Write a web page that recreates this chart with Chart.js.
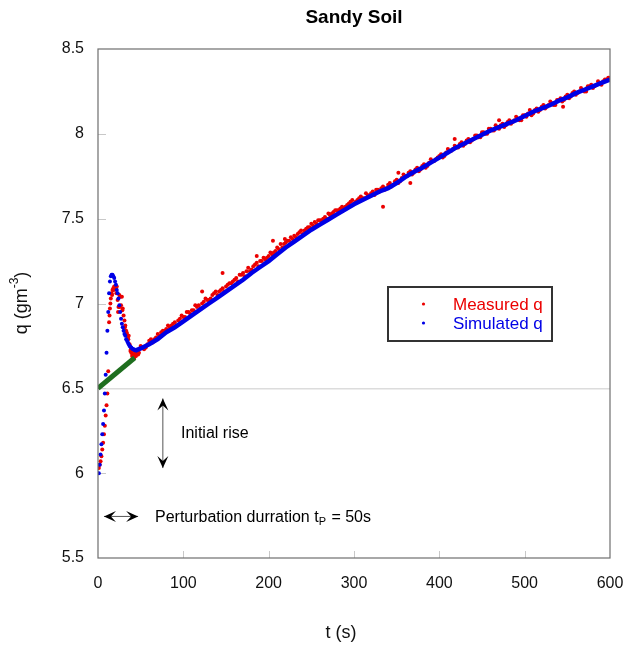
<!DOCTYPE html>
<html>
<head>
<meta charset="utf-8">
<title>Sandy Soil</title>
<script src="https://cdn.jsdelivr.net/npm/chart.js@4.4.1/dist/chart.umd.min.js"></script>
<style>
  html, body { margin: 0; padding: 0; background: #fff; }
  #wrap { width: 624px; height: 650px; position: relative; }
</style>
</head>
<body>
<div id="wrap"><canvas id="soil-chart" width="624" height="650"></canvas></div>
<script>
// Simulated q: 1 s steps through the peak, then every 10 s
const simTime = [1, 2, 3, 4, 5, 6, 7, 8, 9, 10, 11, 12, 13, 14, 15, 16, 17, 18, 19, 20,
    21, 22, 23, 24, 25, 26, 27, 28, 29, 30, 31, 32, 33, 34, 35, 36, 37, 38, 39, 40,
    41, 42, 43, 44, 45, 50, 60, 70, 80, 90, 100, 110, 120, 130, 140, 150, 160, 170, 180, 190,
    200, 210, 220, 230, 240, 250, 260, 270, 280, 290, 300, 310, 320, 330, 340, 350, 360, 370, 380, 390,
    400, 410, 420, 430, 440, 450, 460, 470, 480, 490, 500, 510, 520, 530, 540, 550, 560, 570, 580, 590, 600];
const simQ = [6.00, 6.05, 6.11, 6.17, 6.23, 6.29, 6.37, 6.47, 6.58, 6.71, 6.84, 6.95, 7.06, 7.13, 7.16, 7.17, 7.17, 7.16, 7.15, 7.13,
    7.11, 7.08, 7.06, 7.03, 6.99, 6.95, 6.91, 6.88, 6.86, 6.84, 6.82, 6.81, 6.79, 6.78, 6.77, 6.76, 6.75, 6.745, 6.74, 6.735,
    6.73, 6.73, 6.725, 6.725, 6.725, 6.735, 6.76, 6.79, 6.83, 6.86, 6.895, 6.93, 6.965, 7.00, 7.035, 7.07, 7.105, 7.14, 7.18, 7.215,
    7.25, 7.29, 7.33, 7.365, 7.40, 7.435, 7.465, 7.495, 7.525, 7.555, 7.585, 7.61, 7.635, 7.66, 7.68, 7.71, 7.745, 7.775, 7.80, 7.83,
    7.86, 7.89, 7.92, 7.945, 7.97, 7.995, 8.02, 8.04, 8.06, 8.08, 8.105, 8.13, 8.15, 8.17, 8.195, 8.215, 8.24, 8.26, 8.28, 8.30, 8.32];

// Measured q
const measTime = [1, 2, 3, 4, 5, 6, 7, 8, 9, 10, 11, 12, 13, 14, 15, 16, 17, 18, 19, 20,
    21, 22, 23, 24, 25, 26, 27, 28, 29, 30, 31, 32, 33, 34, 35, 36, 37, 38, 39, 40,
    41, 42, 43, 44, 45, 46, 47, 48,
    13.5, 14.5, 16.5, 18.5, 21.5, 23.5, 25.5, 28.5, 31.5, 33.5, 35.5, 38.5, 40.5, 42.5, 44.5, 46.5,
    52, 56, 60, 64, 68, 72, 76, 80, 84, 88, 92, 96, 100, 104, 108, 112, 116, 120, 124, 128,
    132, 136, 140, 144, 148, 152, 156, 160, 164, 168, 172, 176, 180, 184, 188, 192, 196, 200, 204, 208,
    212, 216, 220, 224, 228, 232, 236, 240, 244, 248, 252, 256, 260, 264, 268, 272, 276, 280, 284, 288,
    292, 296, 300, 304, 308, 312, 316, 320, 324, 328, 332, 336, 340, 344, 348, 352, 356, 360, 364, 368,
    372, 376, 380, 384, 388, 392, 396, 400, 404, 408, 412, 416, 420, 424, 428, 432, 436, 440, 444, 448,
    452, 456, 460, 464, 468, 472, 476, 480, 484, 488, 492, 496, 500, 504, 508, 512, 516, 520, 524, 528,
    532, 536, 540, 544, 548, 552, 556, 560, 564, 568, 572, 576, 580, 584, 588, 592, 596, 600,
    50, 54, 58, 62, 66, 70, 74, 78, 82, 86, 90, 94, 98, 102, 106, 110, 114, 118, 122, 126,
    130, 134, 138, 142, 146, 150, 154, 158, 162, 166, 170, 174, 178, 182, 186, 190, 194, 198, 202, 206,
    210, 214, 218, 222, 226, 230, 234, 238, 242, 246, 250, 254, 258, 262, 266, 270, 274, 278, 282, 286,
    290, 294, 298, 302, 306, 310, 314, 318, 322, 326, 330, 334, 338, 342, 346, 350, 354, 358, 362, 366,
    370, 374, 378, 382, 386, 390, 394, 398, 402, 406, 410, 414, 418, 422, 426, 430, 434, 438, 442, 446,
    450, 454, 458, 462, 466, 470, 474, 478, 482, 486, 490, 494, 498, 502, 506, 510, 514, 518, 522, 526,
    530, 534, 538, 542, 546, 550, 554, 558, 562, 566, 570, 574, 578, 582, 586, 590, 594, 598,
    122, 146, 186, 205, 219, 334, 352, 366, 418, 470, 545];
const measQ = [6.03, 6.05, 6.07, 6.10, 6.14, 6.18, 6.23, 6.28, 6.34, 6.40, 6.47, 6.60, 6.89, 6.97, 7.03, 7.06, 7.08, 7.09, 7.10, 7.10,
    7.09, 7.10, 7.02, 6.98, 7.05, 7.04, 6.99, 7.04, 6.97, 6.93, 6.90, 6.87, 6.84, 6.82, 6.80, 6.81, 6.76, 6.72, 6.71, 6.69,
    6.72, 6.70, 6.69, 6.71, 6.70, 6.72, 6.70, 6.71,
    6.93, 7.00, 7.05, 7.08, 7.06, 6.95, 6.98, 6.96, 6.86, 6.83, 6.79, 6.73, 6.70, 6.68, 6.69, 6.71,
    6.74, 6.74, 6.78, 6.77, 6.80, 6.81, 6.84, 6.85, 6.86, 6.88, 6.87, 6.91, 6.92, 6.95, 6.94, 6.96, 6.98, 6.97, 7.01, 7.02,
    7.03, 7.06, 7.05, 7.08, 7.07, 7.11, 7.12, 7.14, 7.13, 7.17, 7.16, 7.21, 7.20, 7.23, 7.22, 7.25, 7.26, 7.28, 7.29, 7.31,
    7.32, 7.33, 7.36, 7.37, 7.38, 7.39, 7.42, 7.41, 7.44, 7.45, 7.46, 7.47, 7.49, 7.50, 7.50, 7.52, 7.54, 7.55, 7.56, 7.56,
    7.58, 7.60, 7.59, 7.61, 7.63, 7.62, 7.64, 7.65, 7.64, 7.67, 7.68, 7.67, 7.70, 7.69, 7.72, 7.71, 7.74, 7.75, 7.77, 7.76,
    7.79, 7.78, 7.81, 7.80, 7.83, 7.84, 7.85, 7.87, 7.86, 7.89, 7.90, 7.91, 7.92, 7.94, 7.93, 7.96, 7.95, 7.97, 7.99, 7.98,
    8.01, 8.00, 8.03, 8.02, 8.04, 8.05, 8.04, 8.07, 8.06, 8.08, 8.09, 8.08, 8.11, 8.12, 8.11, 8.14, 8.13, 8.16, 8.15, 8.17,
    8.18, 8.17, 8.20, 8.19, 8.22, 8.21, 8.24, 8.23, 8.25, 8.26, 8.25, 8.28, 8.27, 8.29, 8.30, 8.31, 8.32, 8.33,
    6.75, 6.73, 6.76, 6.79, 6.79, 6.82, 6.83, 6.84, 6.87, 6.87, 6.89, 6.90, 6.93, 6.92, 6.95, 6.96, 6.99, 6.99, 7.00, 7.03,
    7.02, 7.05, 7.07, 7.07, 7.09, 7.10, 7.12, 7.13, 7.15, 7.17, 7.18, 7.19, 7.19, 7.22, 7.24, 7.25, 7.27, 7.27, 7.30, 7.30,
    7.33, 7.35, 7.35, 7.37, 7.39, 7.40, 7.41, 7.43, 7.43, 7.45, 7.47, 7.48, 7.49, 7.49, 7.51, 7.53, 7.53, 7.55, 7.55, 7.57,
    7.57, 7.59, 7.61, 7.60, 7.62, 7.62, 7.65, 7.63, 7.66, 7.67, 7.66, 7.69, 7.68, 7.71, 7.70, 7.73, 7.72, 7.76, 7.75, 7.78,
    7.77, 7.80, 7.79, 7.82, 7.81, 7.85, 7.84, 7.86, 7.88, 7.87, 7.91, 7.90, 7.93, 7.92, 7.95, 7.94, 7.97, 7.96, 7.99, 7.98,
    8.01, 8.00, 8.03, 8.02, 8.05, 8.03, 8.06, 8.05, 8.08, 8.07, 8.10, 8.08, 8.11, 8.10, 8.14, 8.12, 8.15, 8.14, 8.17, 8.16,
    8.19, 8.17, 8.20, 8.21, 8.20, 8.23, 8.22, 8.25, 8.24, 8.27, 8.25, 8.28, 8.29, 8.28, 8.31, 8.29, 8.32, 8.33,
    7.07, 7.18, 7.28, 7.37, 7.38, 7.57, 7.77, 7.71, 7.97, 8.08, 8.16];

// Initial rise line
const riseTime = [0, 43];
const riseQ = [6.5, 6.68];

const chartTitle = "Sandy Soil";
const xTitle = "t (s)";
const seriesNames = ["Measured q", "Simulated q"];

const RED = "rgb(235, 0, 0)";
const BLUE = "rgb(0, 0, 230)";
const GREEN = "rgb(30, 110, 30)";
const FONT = "'Liberation Sans', Arial, sans-serif";

const toPoints = (xs, ys) => xs.map((x, i) => ({ x: x, y: ys[i] }));

// Filled chevron arrowhead with its tip at (x, y), pointing along angle a
function arrowHead(ctx, x, y, a) {
    const len = 12, half = 5.5, notch = 5;
    ctx.save();
    ctx.translate(x, y);
    ctx.rotate(a);
    ctx.beginPath();
    ctx.moveTo(0, 0);
    ctx.lineTo(-len, -half);
    ctx.lineTo(-len + notch, 0);
    ctx.lineTo(-len, half);
    ctx.closePath();
    ctx.fill();
    ctx.restore();
}

function doubleArrow(ctx, x1, y1, x2, y2) {
    ctx.save();
    ctx.strokeStyle = "#555";
    ctx.fillStyle = "#000";
    ctx.lineWidth = 1;
    ctx.beginPath();
    ctx.moveTo(x1, y1);
    ctx.lineTo(x2, y2);
    ctx.stroke();
    const a = Math.atan2(y2 - y1, x2 - x1);
    arrowHead(ctx, x2, y2, a);
    arrowHead(ctx, x1, y1, a + Math.PI);
    ctx.restore();
}

// Frame, inward ticks, titles, legend and annotations
const decorations = {
    id: "decorations",
    beforeDatasetsDraw(chart) {
        const { ctx, chartArea: area, scales: { x, y } } = chart;
        ctx.save();
        ctx.strokeStyle = "#c8c8c8";
        ctx.lineWidth = 1;
        x.ticks.forEach(t => {
            if (t.value <= 0 || t.value >= 600) return;
            const px = Math.round(x.getPixelForValue(t.value)) + 0.5;
            ctx.beginPath();
            ctx.moveTo(px, area.bottom);
            ctx.lineTo(px, area.bottom - 7);
            ctx.stroke();
        });
        y.ticks.forEach(t => {
            if (t.value <= 5.5 || t.value >= 8.5) return;
            const py = Math.round(y.getPixelForValue(t.value)) + 0.5;
            ctx.beginPath();
            ctx.moveTo(area.left, py);
            ctx.lineTo(area.left + 8, py);
            ctx.stroke();
        });
        ctx.restore();
    },
    afterDraw(chart) {
        const { ctx, chartArea: area, scales: { x, y } } = chart;
        ctx.save();

        // plot frame
        ctx.strokeStyle = "#6e6e6e";
        ctx.lineWidth = 1.2;
        ctx.strokeRect(area.left, area.top, area.right - area.left, area.bottom - area.top);

        // chart title
        ctx.fillStyle = "#000";
        ctx.textAlign = "center";
        ctx.textBaseline = "middle";
        ctx.font = "bold 19px " + FONT;
        ctx.fillText(chartTitle, 354, 18);

        // x axis title
        ctx.font = "18px " + FONT;
        ctx.fillStyle = "#111";
        ctx.fillText(xTitle, 341, 633);

        // y axis title with superscript
        ctx.save();
        ctx.translate(22, 303);
        ctx.rotate(-Math.PI / 2);
        ctx.textAlign = "left";
        ctx.textBaseline = "middle";
        const base = "q (gm";
        ctx.font = "18px " + FONT;
        const wBase = ctx.measureText(base).width;
        ctx.font = "12px " + FONT;
        const wSup = ctx.measureText("-3").width;
        ctx.font = "18px " + FONT;
        const wEnd = ctx.measureText(")").width;
        let start = -(wBase + wSup + wEnd) / 2;
        ctx.fillText(base, start, 0);
        ctx.font = "12px " + FONT;
        ctx.fillText("-3", start + wBase, -7);
        ctx.font = "18px " + FONT;
        ctx.fillText(")", start + wBase + wSup, 0);
        ctx.restore();

        // legend box
        ctx.strokeStyle = "#333";
        ctx.lineWidth = 2;
        ctx.strokeRect(388, 287, 164, 54);
        ctx.font = "17px " + FONT;
        ctx.textAlign = "left";
        ctx.textBaseline = "middle";
        [[RED, seriesNames[0], 304], [BLUE, seriesNames[1], 323]].forEach(([c, label, ly]) => {
            ctx.fillStyle = c;
            ctx.beginPath();
            ctx.arc(423.5, ly, 1.6, 0, Math.PI * 2);
            ctx.fill();
            ctx.fillText(label, 453, ly + 1);
        });

        // initial rise arrow
        const ax = x.getPixelForValue(76);
        doubleArrow(ctx, ax, y.getPixelForValue(6.44), ax, y.getPixelForValue(6.03));
        ctx.fillStyle = "#000";
        ctx.font = "16px " + FONT;
        ctx.fillText("Initial rise", 181, 434);

        // perturbation duration arrow
        const py = y.getPixelForValue(5.745);
        doubleArrow(ctx, x.getPixelForValue(7), py, x.getPixelForValue(47), py);
        ctx.fillStyle = "#000";
        const label = "Perturbation durration t";
        ctx.fillText(label, 155, py + 1);
        const w1 = ctx.measureText(label).width;
        ctx.font = "11px " + FONT;
        ctx.fillText("P", 155 + w1, py + 6);
        const w2 = ctx.measureText("P").width;
        ctx.font = "16px " + FONT;
        ctx.fillText(" = 50s", 155 + w1 + w2 + 1, py + 1);

        ctx.restore();
    }
};

const tickFont = { family: FONT, size: 16 };

new Chart(document.getElementById("soil-chart"), {
    type: "scatter",
    data: {
        datasets: [
            {
                label: seriesNames[1],
                data: toPoints(simTime, simQ),
                order: 0,
                showLine: true,
                borderColor: BLUE,
                borderWidth: 4.5,
                segment: {
                    borderColor: ctx => ctx.p0.parsed.x >= 44 ? BLUE : "rgba(0,0,0,0)"
                },
                pointRadius: ctx => (ctx.raw && ctx.raw.x <= 45) ? 2 : 0,
                pointBackgroundColor: BLUE,
                pointBorderWidth: 0
            },
            {
                label: "Initial rise",
                data: toPoints(riseTime, riseQ),
                order: 1,
                showLine: true,
                borderColor: GREEN,
                borderWidth: 5,
                pointRadius: 0
            },
            {
                label: seriesNames[0],
                data: toPoints(measTime, measQ),
                order: 2,
                pointRadius: 2,
                pointBackgroundColor: RED,
                pointBorderWidth: 0
            }
        ]
    },
    options: {
        responsive: false,
        animation: false,
        layout: { padding: { top: 49, right: 14, left: 0, bottom: 0 } },
        plugins: {
            legend: { display: false },
            tooltip: { enabled: false }
        },
        scales: {
            x: {
                type: "linear",
                min: 0,
                max: 600,
                border: { display: false },
                grid: { display: false },
                ticks: { stepSize: 100, color: "#111", font: tickFont, padding: 8, maxRotation: 0 },
                afterFit: s => {
                    s.height = 92;
                    s.paddingLeft = 0;
                    s.paddingRight = 0;
                }
            },
            y: {
                min: 5.5,
                max: 8.5,
                border: { display: false },
                grid: {
                    drawTicks: false,
                    color: ctx => (ctx.tick && ctx.tick.value === 6.5) ? "#dcdcdc" : "rgba(0,0,0,0)",
                    lineWidth: 1.5
                },
                ticks: {
                    stepSize: 0.5,
                    color: "#111",
                    font: tickFont,
                    padding: 14,
                    callback: v => String(v)
                },
                afterFit: s => { s.width = 98; }
            }
        }
    },
    plugins: [decorations]
});
</script>
</body>
</html>
